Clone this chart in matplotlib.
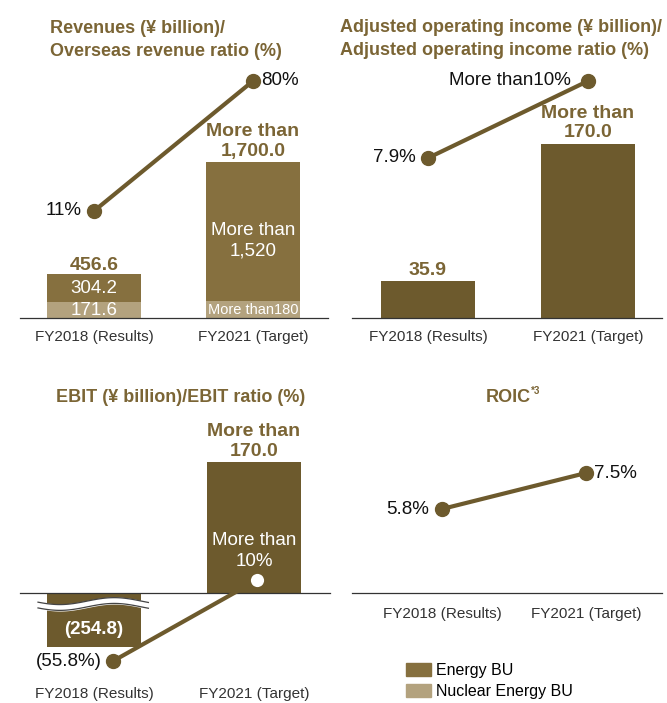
import numpy as np
import matplotlib.pyplot as plt
from matplotlib.patches import Patch

plt.rcParams['font.family'] = ['Liberation Sans', 'DejaVu Sans']

W, H = 667, 703
DARK = '#6d5a2d'
ENERGY = '#86703f'
NUCLEAR = '#b3a27e'
TITLE = '#7b6535'

periods = ['FY2018 (Results)', 'FY2021 (Target)']

# revenues (¥ billion) and overseas ratio (%)
rev_nuclear = [171.6, 180]
rev_energy = [304.2, 1520]
rev_total = [456.6, 1700.0]
overseas_ratio = [11, 80]

# adjusted operating income
aoi = [35.9, 170.0]
aoi_ratio = [7.9, 10]

# EBIT
ebit = [-254.8, 170.0]
ebit_ratio = [-55.8, 10]

# ROIC
roic = [5.8, 7.5]

LBL = 14      # bold value labels above bars
INS = 13.5    # white labels inside bars
PCT = 13.5    # percentage labels
TTL = 13      # panel titles
TCK = 11      # period labels


def add_axes(x0, y0, x1, y1):
    return fig.add_axes([x0 / W, 1 - y1 / H, (x1 - x0) / W, (y1 - y0) / H])


def lims(v1, p1, v2, p2, top, bottom):
    """y limits so that value v1 lands on pixel row p1 and v2 on p2"""
    b = (p2 - p1) / (v2 - v1)
    f = lambda p: (p - p1) / b + v1
    return f(bottom), f(top)


def style(ax, x0, x1, c0, step, pad):
    ax.set_xlim(-(c0 - x0) / step, (x1 - c0) / step)
    for s in ['top', 'right', 'left', 'bottom']:
        ax.spines[s].set_visible(False)
    ax.axhline(0, color='#333333', lw=0.9, clip_on=False)
    ax.set_yticks([])
    ax.set_xticks([0, 1])
    ax.set_xticklabels(periods, fontsize=TCK, color='#333333')
    ax.tick_params(axis='x', length=0, pad=pad)
    ax.patch.set_alpha(0)


def twin(ax, vals, p, top, bottom):
    tw = ax.twinx()
    tw.set_ylim(*lims(vals[0], p[0], vals[1], p[1], top, bottom))
    tw.axis('off')
    tw.plot([0, 1], vals, color=DARK, lw=3, marker='o', ms=10,
            markerfacecolor=DARK, markeredgecolor=DARK, clip_on=False, zorder=5)
    return tw


def pct(tw, text, x, y, dx, ha):
    tw.annotate(text, (x, y), xytext=(dx, 0), textcoords='offset points', ha=ha,
                va='center', fontsize=PCT, color='#111111', annotation_clip=False)


fig = plt.figure(figsize=(W / 100, H / 100), dpi=100)

# ---------- panel 1: revenues ----------
x0, x1, top, base = 20, 328, 60, 318
ax1 = add_axes(x0, top, x1, base)
style(ax1, x0, x1, 94, 159, 9)
ax1.set_ylim(*lims(0, base, rev_total[1], 162, top, base))
ax1.bar([0, 1], rev_nuclear, width=0.59, color=NUCLEAR, label='Nuclear Energy BU')
ax1.bar([0, 1], rev_energy, width=0.59, bottom=rev_nuclear, color=ENERGY, label='Energy BU')
ax1.text(0, rev_total[0] + 25, f'{rev_total[0]:.1f}', ha='center', va='bottom',
         fontsize=LBL, fontweight='bold', color=TITLE)
ax1.text(1, rev_total[1] + 25, f'More than\n{rev_total[1]:,.1f}', ha='center', va='bottom',
         fontsize=LBL, fontweight='bold', color=TITLE, linespacing=1.2)
ax1.text(0, rev_nuclear[0] + rev_energy[0] / 2, f'{rev_energy[0]:.1f}', ha='center',
         va='center', fontsize=INS, color='white')
ax1.text(0, rev_nuclear[0] / 2, f'{rev_nuclear[0]:.1f}', ha='center', va='center',
         fontsize=INS, color='white')
ax1.text(1, rev_nuclear[1] + rev_energy[1] / 2 - 100, f'More than\n{rev_energy[1]:,}',
         ha='center', va='center', fontsize=INS, color='white', linespacing=1.3)
ax1.text(1, rev_nuclear[1] / 2, f'More than{rev_nuclear[1]}', ha='center', va='center',
         fontsize=10.5, color='white', family=['Liberation Sans Narrow', 'Liberation Sans'])
tw1 = twin(ax1, overseas_ratio, (211, 81), top, base)
pct(tw1, f'{overseas_ratio[0]}%', 0, overseas_ratio[0], -9, 'right')
pct(tw1, f'{overseas_ratio[1]}%', 1, overseas_ratio[1], 6, 'left')
fig.text(50 / W, 1 - 40 / H, 'Revenues (¥ billion)/\nOverseas revenue ratio (%)',
         ha='left', va='center', fontsize=TTL, fontweight='bold', color=TITLE,
         linespacing=1.45)

# ---------- panel 2: adjusted operating income ----------
x0, x1, top, base = 352, 662, 60, 318
ax2 = add_axes(x0, top, x1, base)
style(ax2, x0, x1, 428, 160, 9)
ax2.set_ylim(*lims(0, base, aoi[1], 144, top, base))
ax2.bar([0, 1], aoi, width=0.59, color=DARK)
ax2.text(0, aoi[0] + 2.5, f'{aoi[0]}', ha='center', va='bottom', fontsize=LBL,
         fontweight='bold', color=TITLE)
ax2.text(1, aoi[1] + 2.5, f'More than\n{aoi[1]:.1f}', ha='center', va='bottom',
         fontsize=LBL, fontweight='bold', color=TITLE, linespacing=1.2)
tw2 = twin(ax2, aoi_ratio, (158, 81), top, base)
pct(tw2, f'{aoi_ratio[0]}%', 0, aoi_ratio[0], -9, 'right')
pct(tw2, f'More than{aoi_ratio[1]}%', 1, aoi_ratio[1], -12, 'right')
fig.text(340 / W, 1 - 39 / H,
         'Adjusted operating income (¥ billion)/\nAdjusted operating income ratio (%)',
         ha='left', va='center', fontsize=TTL, fontweight='bold', color=TITLE,
         linespacing=1.4)

# ---------- panel 3: EBIT ----------
x0, x1, top, bottom, base = 20, 330, 410, 647, 593
ax3 = add_axes(x0, top, x1, bottom)
style(ax3, x0, x1, 94, 160, 29)
ax3.set_ylim(*lims(0, base, ebit[1], 462, top, bottom))
ax3.bar([0, 1], ebit, width=0.59, color=DARK)
ax3.text(1, ebit[1] + 3, f'More than\n{ebit[1]:.1f}', ha='center', va='bottom',
         fontsize=LBL, fontweight='bold', color=TITLE, linespacing=1.2)
ylo, yhi = ax3.get_ylim()
py = lambda p: yhi - (p - top) / (bottom - top) * (yhi - ylo)
ax3.text(0, py(629), f'({-ebit[0]})', ha='center', va='center', fontsize=INS,
         fontweight='bold', color='white')
ax3.text(1, py(551), f'More than\n{ebit_ratio[1]}%', ha='center', va='center',
         fontsize=INS, color='white', linespacing=1.3)
# wavy break mark across the truncated bar
wx = np.linspace(-0.35, 0.34, 100)
wy = py(604) + 4.5 * np.sin(wx / 0.34 * np.pi + 0.4)
band = 7.5
ax3.fill_between(wx, wy - band / 2, wy + band / 2, color='white', zorder=3, clip_on=False)
ax3.plot(wx, wy + band / 2, color='#444444', lw=0.9, zorder=3, clip_on=False)
ax3.plot(wx, wy - band / 2, color='#444444', lw=0.9, zorder=3, clip_on=False)
# ratio line is drawn slightly right of the bar centres in this panel
ratio_x = [0.12, 1.02]
tw3 = ax3.twinx()
tw3.set_ylim(*lims(ebit_ratio[0], 661, ebit_ratio[1], 580, top, bottom))
tw3.axis('off')
tw3.plot(ratio_x, ebit_ratio, color=DARK, lw=3, clip_on=False, zorder=5)
tw3.plot(ratio_x[:1], ebit_ratio[:1], 'o', color=DARK, ms=10, clip_on=False, zorder=6)
tw3.plot(ratio_x[1:], ebit_ratio[1:], 'o', ms=11, markerfacecolor='white',
         markeredgecolor=DARK, markeredgewidth=1.5, clip_on=False, zorder=6)
pct(tw3, f'({-ebit_ratio[0]}%)', ratio_x[0], ebit_ratio[0], -8, 'right')
fig.text(181 / W, 1 - 397 / H, 'EBIT (¥ billion)/EBIT ratio (%)', ha='center',
         va='center', fontsize=TTL, fontweight='bold', color=TITLE)

# ---------- panel 4: ROIC ----------
x0, x1, top, base = 352, 662, 420, 593
ax4 = add_axes(x0, top, x1, base)
style(ax4, x0, x1, 442, 144, 10)
ax4.set_ylim(0, 1)
tw4 = twin(ax4, roic, (509, 473), top, base)
pct(tw4, f'{roic[0]}%', 0, roic[0], -9, 'right')
pct(tw4, f'{roic[1]}%', 1, roic[1], 6, 'left')
fig.text(486 / W, 1 - 398 / H, 'ROIC', ha='left', va='center', fontsize=TTL,
         fontweight='bold', color=TITLE)
fig.text(531 / W, 1 - 391 / H, '*3', ha='left', va='center', fontsize=7,
         fontweight='bold', color=TITLE)

# legend
handles = [Patch(color=ENERGY), Patch(color=NUCLEAR)]
fig.legend(handles, ['Energy BU', 'Nuclear Energy BU'], loc='upper left',
           bbox_to_anchor=(406 / W, 1 - 663 / H), frameon=False, borderaxespad=0,
           borderpad=0, handlelength=1.55, handleheight=0.85, handletextpad=0.3,
           labelspacing=0.4, fontsize=11.5)

fig.savefig('out.png', dpi=100)
